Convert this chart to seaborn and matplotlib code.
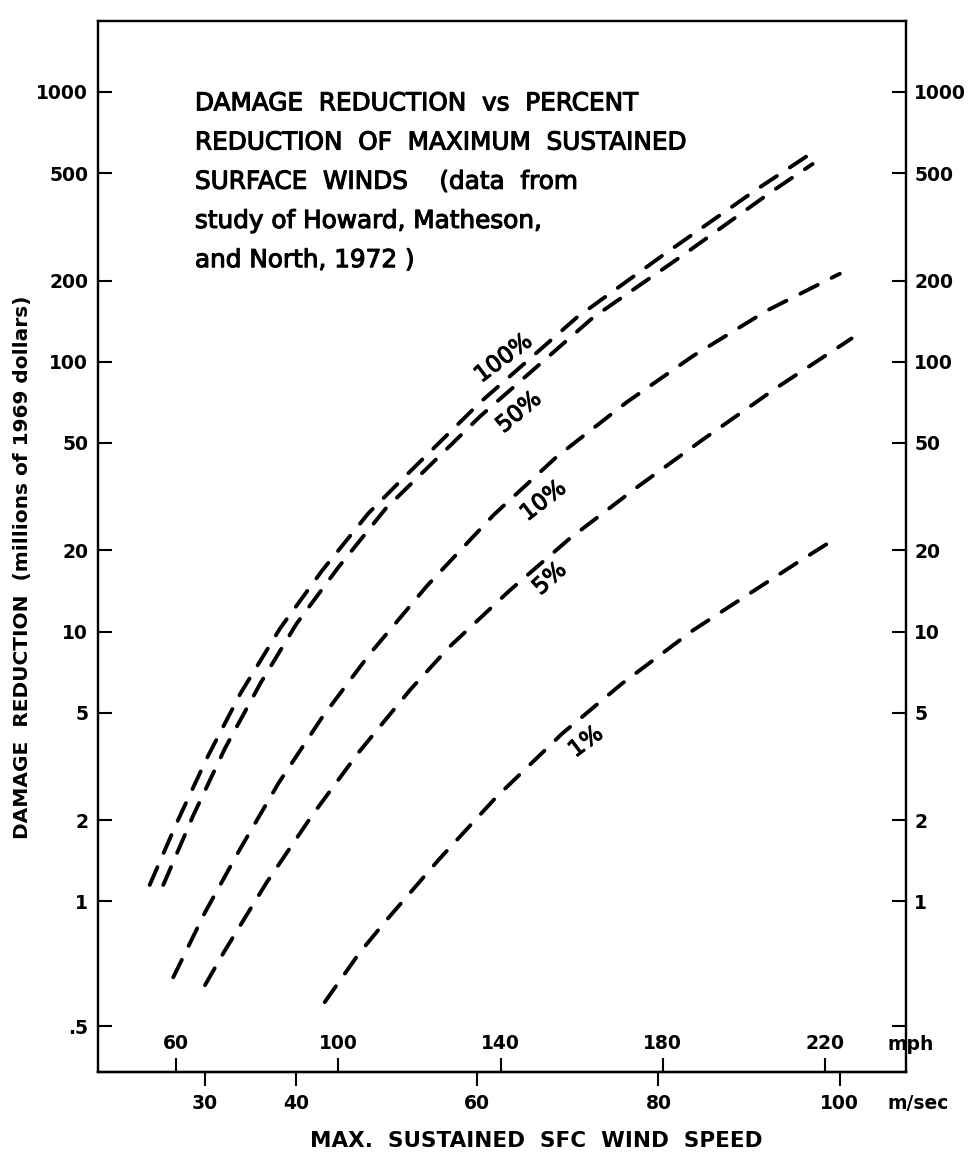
import matplotlib
matplotlib.use("Agg")
import matplotlib.pyplot as plt
import matplotlib.patheffects as pe
import numpy as np
import pandas as pd
import seaborn as sns
from matplotlib.ticker import FixedLocator, FixedFormatter, NullLocator

# ---------------- data ----------------
reductions = ["100%", "50%", "10%", "5%", "1%"]

speed_100 = [23.9, 26.9, 30.2, 33.9, 38.3, 42.9, 48.0, 51.5, 60.3, 71.0, 80.4, 90.9, 96.9]
damage_100 = [1.15, 1.96, 3.39, 5.89, 10.3, 16.8, 27.4, 36.0, 70.5, 146, 247, 437, 594]

speed_50 = [25.4, 28.7, 32.2, 36.1, 40.1, 44.7, 49.9, 60.3, 72.8, 82.6, 92.6, 97.0]
damage_50 = [1.15, 2.08, 3.69, 6.42, 10.7, 17.3, 28.5, 62.6, 146, 247, 430, 541]

speed_10 = [26.5, 30.0, 33.9, 38.1, 42.9, 48.2, 54.5, 61.8, 68.8, 76.5, 83.8, 92.0, 100.0]
damage_10 = [0.523, 0.91, 1.57, 2.74, 4.80, 8.29, 14.8, 27.0, 44.5, 70.8, 105, 155, 212]

speed_5 = [30.0, 32.2, 36.8, 41.8, 46.9, 52.6, 57.0, 63.6, 70.2, 77.6, 84.9, 93.1, 101.3]
damage_5 = [0.489, 0.658, 1.175, 2.08, 3.55, 6.07, 8.81, 14.2, 22.1, 34.2, 51.5, 80.4, 122]

speed_1 = [43.2, 47.0, 50.0, 55.8, 62.1, 69.4, 75.9, 83.8, 88.5, 95.3, 99.7]
damage_1 = [0.423, 0.642, 0.851, 1.43, 2.43, 4.19, 6.38, 10.1, 12.8, 18.0, 22.3]

label_speed = [62.9, 64.6, 67.3, 68.0, 72.0]
label_damage = [103, 65, 30.5, 15.7, 3.9]
label_angle = [37, 40, 38, 42, 37]

ms_ticks = [30, 40, 60, 80, 100]
mph_ticks = [60, 100, 140, 180, 220]
# the ".5" tick is drawn where the original figure printed it
y_ticks = [0.344, 1, 2, 5, 10, 20, 50, 100, 200, 500, 1000]
y_labels_left = [".5", "1", "2", "5", "10", "20", "50", "100", "200", "500", "1000"]
y_labels_right = ["", "1", "2", "5", "10", "20", "50", "100", "200", "500", "1000"]

title_lines = [
    "DAMAGE  REDUCTION  vs  PERCENT",
    "REDUCTION  OF  MAXIMUM  SUSTAINED",
    "SURFACE  WINDS    (data  from",
    "study of Howard, Matheson,",
    "and North, 1972 )",
]

MPH_PER_MS = 2.23694

# ---------------- style ----------------
sns.set_theme(style="white", rc={
    "axes.edgecolor": "black", "text.color": "black", "axes.labelcolor": "black",
    "xtick.color": "black", "ytick.color": "black",
})
plt.rcParams["font.family"] = ["DejaVu Sans"]

fig = plt.figure(figsize=(9.69, 11.57), dpi=100)
ax = fig.add_axes([98 / 969, 1 - 1072 / 1157, (906 - 98) / 969, (1072 - 21) / 1157])
ax.set_yscale("log")

curves = [(speed_100, damage_100), (speed_50, damage_50), (speed_10, damage_10),
          (speed_5, damage_5), (speed_1, damage_1)]
frames = []
for name, (xs, ys) in zip(reductions, curves):
    frames.append(pd.DataFrame({"speed": xs, "damage": ys, "reduction": name}))
df = pd.concat(frames, ignore_index=True)

for name in reductions:
    sub = df[df["reduction"] == name]
    sns.lineplot(data=sub, x="speed", y="damage", ax=ax, color="black", lw=2.8,
                 sort=False, estimator=None, linestyle=(0, (5.0, 4.0)),
                 dash_capstyle="round")

ax.set_xlim(18.2, 107.3)
ax.set_ylim(0.233, 1833)

for sp in ax.spines.values():
    sp.set_linewidth(1.6)
    sp.set_color("black")

TICK_FS = 13.5

# y axis (left)
ax.yaxis.set_major_locator(FixedLocator(y_ticks))
ax.yaxis.set_major_formatter(FixedFormatter(y_labels_left))
ax.yaxis.set_minor_locator(NullLocator())
ax.tick_params(axis="y", which="major", direction="in", left=True, right=False,
               length=10, width=1.5, labelsize=TICK_FS, pad=7)
for t in ax.get_yticklabels():
    t.set_fontweight("bold")

# y axis (right)
ax2 = ax.twinx()
ax2.set_yscale("log")
ax2.set_ylim(ax.get_ylim())
ax2.yaxis.set_major_locator(FixedLocator(y_ticks))
ax2.yaxis.set_major_formatter(FixedFormatter(y_labels_right))
ax2.yaxis.set_minor_locator(NullLocator())
ax2.tick_params(axis="y", which="major", direction="in", right=True, left=False,
                length=10, width=1.5, labelsize=TICK_FS, pad=6)
for t in ax2.get_yticklabels():
    t.set_fontweight("bold")
for sp in ax2.spines.values():
    sp.set_linewidth(1.6)
ax2.grid(False)

# x axis: m/sec below
ax.set_xticks(ms_ticks)
ax.set_xticklabels([str(v) for v in ms_ticks], fontweight="bold")
ax.xaxis.set_minor_locator(NullLocator())
ax.tick_params(axis="x", direction="out", bottom=True, length=10, width=1.5,
               labelsize=TICK_FS, pad=6)

# mph scale drawn above the bottom axis line
sec = ax.secondary_xaxis(0, functions=(lambda m: m * MPH_PER_MS, lambda v: v / MPH_PER_MS))
sec.set_alignment("top")
sec.set_xticks(mph_ticks)
sec.set_xticklabels([str(v) for v in mph_ticks], fontweight="bold")
sec.xaxis.set_minor_locator(NullLocator())
sec.tick_params(axis="x", direction="out", top=True, labeltop=True, bottom=False,
                labelbottom=False, length=10, width=1.5, labelsize=TICK_FS, pad=4)
for sp in sec.spines.values():
    sp.set_linewidth(1.6)

ax.text(0.977, 0.026, "mph", transform=ax.transAxes, ha="left", va="center",
        fontsize=TICK_FS, fontweight="bold")
ax.text(0.977, -0.030, "m/sec", transform=ax.transAxes, ha="left", va="center",
        fontsize=TICK_FS, fontweight="bold")

ax.set_xlabel("MAX.  SUSTAINED  SFC  WIND  SPEED", fontsize=15.5, fontweight="bold")
ax.xaxis.set_label_coords(0.542, -0.056)
ax.set_ylabel("DAMAGE  REDUCTION  (millions of 1969 dollars)", fontsize=14.5,
              fontweight="bold")
ax.yaxis.set_label_coords(-0.082, 0.48)

thick = [pe.withStroke(linewidth=0.8, foreground="black")]

# title block
for i, line in enumerate(title_lines):
    ax.text(0.12, 0.915 - i * 0.0373, line, transform=ax.transAxes, ha="left",
            va="baseline", fontsize=17.8, path_effects=thick)

# curve labels
for name, xs, ys, ang in zip(reductions, label_speed, label_damage, label_angle):
    ax.text(xs, ys, name, rotation=ang, rotation_mode="anchor", ha="center",
            va="center", fontsize=16.5, path_effects=thick)

fig.savefig("out.png", dpi=100)
